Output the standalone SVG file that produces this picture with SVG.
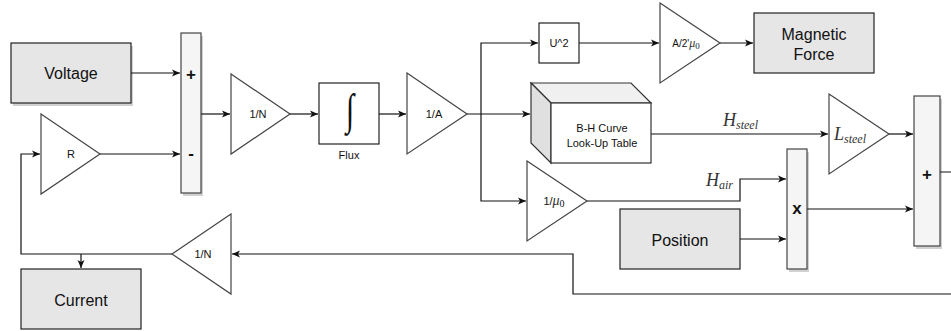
<svg xmlns="http://www.w3.org/2000/svg" width="951" height="331" viewBox="0 0 951 331">
<style>
.box{fill:#e6e6e6;stroke:#222;stroke-width:1.2}
.bar{fill:#f5f5f5;stroke:#444;stroke-width:1.2}
.tri{fill:#fff;stroke:#444;stroke-width:1.2}
.plain{fill:#fff;stroke:#222;stroke-width:1.2}
.sh{fill:#000;opacity:0.18}
.lbl{font-family:"Liberation Sans",Arial,sans-serif;font-size:16px;fill:#111;text-anchor:middle}
.sm{font-family:"Liberation Sans",Arial,sans-serif;font-size:11px;fill:#111;text-anchor:middle}
.sign{font-family:"Liberation Sans",Arial,sans-serif;font-size:17px;font-weight:bold;fill:#111;text-anchor:middle}
.math{font-family:"Liberation Serif","Times New Roman",serif;font-style:italic;fill:#333}
.con{fill:none;stroke:#111;stroke-width:1.2}
</style>
<defs>
<marker id="arr" markerUnits="userSpaceOnUse" markerWidth="10" markerHeight="10" refX="9" refY="5" orient="auto">
<path d="M1,1.5 L9,5 L1,8.5 L3,5 Z" fill="#111"/>
</marker>
</defs>

<g id="connectors">
<path class="con" d="M131,73 H180" marker-end="url(#arr)"/>
<path class="con" d="M100,154 H180" marker-end="url(#arr)"/>
<path class="con" d="M201,114 H230" marker-end="url(#arr)"/>
<path class="con" d="M290,114 H318" marker-end="url(#arr)"/>
<path class="con" d="M379,114 H406" marker-end="url(#arr)"/>
<path class="con" d="M467,114 H530" marker-end="url(#arr)"/>
<path class="con" d="M481,114 V43 H538" marker-end="url(#arr)"/>
<path class="con" d="M481,114 V201 H526" marker-end="url(#arr)"/>
<path class="con" d="M579,43 H659" marker-end="url(#arr)"/>
<path class="con" d="M720,43 H753" marker-end="url(#arr)"/>
<path class="con" d="M651,134 H828" marker-end="url(#arr)"/>
<path class="con" d="M889,134 H913" marker-end="url(#arr)"/>
<path class="con" d="M587,201 H740 V179 H786" marker-end="url(#arr)"/>
<path class="con" d="M740,239 H786" marker-end="url(#arr)"/>
<path class="con" d="M807,209 H913" marker-end="url(#arr)"/>
<path class="con" d="M940,172 H960 V294 H573 V254 H232" marker-end="url(#arr)"/>
<path class="con" d="M172,254 H21 V154 H40" marker-end="url(#arr)"/>
<path class="con" d="M81,254 V268" marker-end="url(#arr)"/>
</g>

<g id="voltage">
<rect class="sh" x="13" y="46" width="120" height="60"/>
<rect class="box" x="11" y="43" width="120" height="60"/>
<text class="lbl" x="71" y="79">Voltage</text>
</g>

<g id="gainR">
<polygon class="tri" points="41,114 100,154 41,194"/>
<text class="sm" x="71" y="158">R</text>
</g>

<g id="sum1">
<rect class="sh" x="183" y="36" width="20" height="160"/>
<rect class="bar" x="181" y="33" width="20" height="160"/>
<text class="sign" x="191" y="80">+</text>
<text class="sign" x="191" y="159">-</text>
</g>

<g id="gain1N">
<polygon class="tri" points="231,74 290,114 231,154"/>
<text class="sm" x="258" y="118">1/N</text>
</g>

<g id="integrator">
<rect class="plain" x="319" y="83" width="60" height="61"/>
<text transform="translate(350,124) scale(1,1.45)" x="0" y="0" text-anchor="middle" font-family="'Liberation Serif',serif" font-size="30" fill="#111">∫</text>
<text class="sm" x="349" y="159">Flux</text>
</g>

<g id="gain1A">
<polygon class="tri" points="407,73 467,114 407,154"/>
<text class="sm" x="434" y="118">1/A</text>
</g>

<g id="square">
<rect class="plain" x="539" y="23" width="40" height="40"/>
<text class="sm" x="559" y="47">U^2</text>
</g>

<g id="gainForce">
<polygon class="tri" points="660,3 720,43 660,83"/>
<text x="686" y="47" text-anchor="middle" fill="#111"><tspan font-family="'Liberation Sans',Arial,sans-serif" font-size="10">A/2'</tspan><tspan class="math" font-size="12">μ</tspan><tspan font-family="'Liberation Serif',serif" font-size="9" dy="2">0</tspan></text>
</g>

<g id="magforce">
<rect class="box" x="754" y="13" width="120" height="60"/>
<text class="lbl" x="814" y="40">Magnetic</text>
<text class="lbl" x="814" y="60">Force</text>
</g>

<g id="bhtable">
<polygon points="531,83 631,83 651,103 551,103" fill="#f0f0f0" stroke="#333" stroke-width="1.2"/>
<polygon points="531,83 551,103 551,163 531,143" fill="#e0e0e0" stroke="#333" stroke-width="1.2"/>
<rect x="551" y="103" width="100" height="60" fill="#fff" stroke="#333" stroke-width="1.2"/>
<text class="sm" x="602" y="132">B-H Curve</text>
<text class="sm" x="602" y="147">Look-Up Table</text>
</g>

<g id="labelHsteel">
<text class="math" x="723" y="126" font-size="18">H<tspan font-size="12" dy="3">steel</tspan></text>
</g>

<g id="gainLsteel">
<polygon class="tri" points="829,94 889,134 829,174"/>
<text class="math" x="834" y="140" font-size="18">L<tspan font-size="12" dy="3">steel</tspan></text>
</g>

<g id="gainMu">
<polygon class="tri" points="527,161 587,201 527,241"/>
<text x="554" y="205" text-anchor="middle" fill="#111"><tspan font-family="'Liberation Sans',Arial,sans-serif" font-size="11">1/</tspan><tspan class="math" font-size="14">μ</tspan><tspan font-family="'Liberation Serif',serif" font-size="10" dy="2">0</tspan></text>
</g>

<g id="labelHair">
<text class="math" x="706" y="186" font-size="18">H<tspan font-size="12" dy="3">air</tspan></text>
</g>

<g id="position">
<rect class="box" x="620" y="209" width="120" height="60"/>
<text class="lbl" x="680" y="246">Position</text>
</g>

<g id="mult">
<rect class="sh" x="789" y="152" width="20" height="120"/>
<rect class="bar" x="787" y="149" width="20" height="120"/>
<text class="sign" x="797" y="214">x</text>
</g>

<g id="sum2">
<rect class="sh" x="916" y="99" width="26" height="150"/>
<rect class="bar" x="914" y="96" width="26" height="150"/>
<text class="sign" x="927" y="180">+</text>
</g>

<g id="gainFeedback">
<polygon class="tri" points="231,214 172,254 231,294"/>
<text class="sm" x="203" y="258">1/N</text>
</g>

<g id="current">
<rect class="box" x="21" y="269" width="120" height="60"/>
<text class="lbl" x="81" y="306">Current</text>
</g>
</svg>
